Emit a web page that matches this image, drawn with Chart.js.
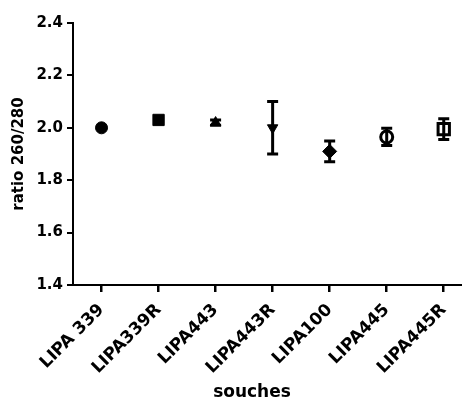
<!DOCTYPE html>
<html>
<head>
<meta charset="utf-8">
<script src="https://cdn.jsdelivr.net/npm/chart.js@4"></script>
<style>
html,body{margin:0;padding:0;background:#fff;overflow:hidden;}
#wrap{width:462px;height:403px;}
</style>
</head>
<body>
<div id="wrap"><canvas id="c" width="462" height="403"></canvas></div>
<script>
const categories = ["LIPA 339", "LIPA339R", "LIPA443", "LIPA443R", "LIPA100", "LIPA445", "LIPA445R"];
const means = [2.00, 2.03, 2.02, 2.00, 1.91, 1.965, 1.995];
const errors = [0.0, 0.006, 0.01, 0.1, 0.04, 0.033, 0.04];
const yTicks = [1.4, 1.6, 1.8, 2.0, 2.2, 2.4];
const markerStyles = ["circle", "rect", "triangle", "triangle", "rectRot", "circle", "rect"];
const markerRotation = [0, 0, 0, 180, 0, 0, 0];
const markerRadius = [6, 8, 6, 6, 7, 6, 8];
const markerFill = ["#000", "#000", "#000", "#000", "#000", "#fff", "#fff"];
const markerBorder = [1, 1, 1, 1, 1, 3, 3];

const FONT = "'DejaVu Sans', sans-serif";

const errorBars = {
  id: 'errorBars',
  afterDatasetsDraw(chart) {
    const ctx = chart.ctx;
    const ys = chart.scales.y;
    const meta = chart.getDatasetMeta(0);
    ctx.save();
    ctx.strokeStyle = '#000';
    ctx.lineWidth = 3;
    meta.data.forEach((pt, i) => {
      if (!errors[i]) return;
      const x = pt.x;
      const yt = ys.getPixelForValue(means[i] + errors[i]);
      const yb = ys.getPixelForValue(means[i] - errors[i]);
      ctx.beginPath();
      ctx.moveTo(x, yt); ctx.lineTo(x, yb);
      ctx.moveTo(x - 5.5, yt); ctx.lineTo(x + 5.5, yt);
      ctx.moveTo(x - 5.5, yb); ctx.lineTo(x + 5.5, yb);
      ctx.stroke();
    });
    ctx.restore();
  }
};

const xTitle = {
  id: 'xTitle',
  afterDraw(chart) {
    const ctx = chart.ctx;
    ctx.save();
    ctx.font = "bold 17px " + FONT;
    ctx.fillStyle = '#000';
    ctx.textAlign = 'center';
    ctx.textBaseline = 'middle';
    ctx.fillText('souches', 252, 393);
    ctx.restore();
  }
};

new Chart(document.getElementById('c'), {
  type: 'scatter',
  data: {
    datasets: [{
      data: categories.map((c, i) => ({x: i, y: means[i]})),
      pointStyle: markerStyles,
      rotation: markerRotation,
      pointRadius: markerRadius,
      pointHoverRadius: markerRadius,
      backgroundColor: markerFill,
      borderColor: '#000',
      pointBorderWidth: markerBorder,
      borderWidth: markerBorder,
      showLine: false
    }]
  },
  options: {
    responsive: false,
    animation: false,
    events: [],
    clip: false,
    layout: { autoPadding: false, padding: { left: 0, right: 0, top: 23, bottom: 0 } },
    plugins: { legend: { display: false }, tooltip: { enabled: false } },
    scales: {
      x: {
        type: 'linear',
        min: -0.5,
        max: 6.32,
        afterFit(s) { s.height = 118; s.paddingRight = 0; s.paddingLeft = 0; },
        border: { display: true, color: '#000', width: 2 },
        grid: { drawOnChartArea: false, color: '#000', tickLength: 7, lineWidth: 2.5 },
        ticks: {
          stepSize: 1,
          includeBounds: false,
          autoSkip: false,
          maxRotation: 45,
          minRotation: 45,
          color: '#000',
          padding: 8,
          font: { family: FONT, size: 17, weight: 'bold' },
          callback: (v) => (Number.isInteger(v) && categories[v] !== undefined) ? categories[v] : ''
        }
      },
      y: {
        min: 1.4,
        max: 2.4,
        afterFit(s) { s.width = 73; },
        afterBuildTicks(s) { s.ticks = yTicks.map(v => ({value: v})); },
        border: { display: true, color: '#000', width: 2 },
        grid: { drawOnChartArea: false, color: '#000', tickLength: 6, lineWidth: 2 },
        ticks: {
          color: '#000',
          padding: 4,
          font: { family: FONT, size: 15, weight: 'bold' },
          callback: (v) => v.toFixed(1)
        },
        title: {
          display: true,
          text: 'ratio 260/280',
          color: '#000',
          padding: { top: 10, bottom: 0 },
          font: { family: FONT, size: 15, weight: 'bold' }
        }
      }
    }
  },
  plugins: [errorBars, xTitle]
});
</script>
</body>
</html>
